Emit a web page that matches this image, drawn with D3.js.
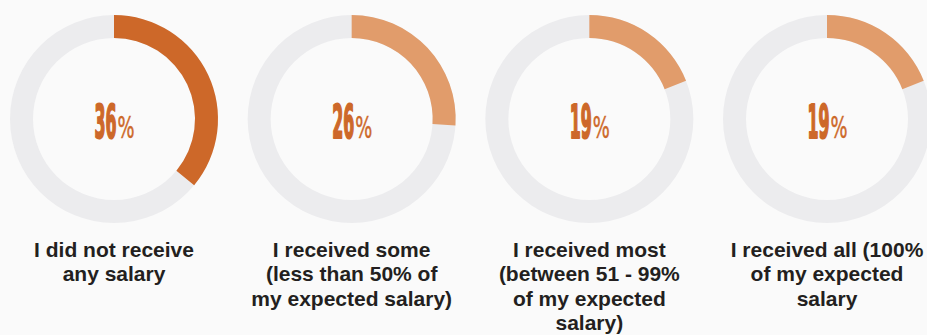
<!DOCTYPE html>
<html>
<head>
<meta charset="utf-8">
<script src="https://cdn.jsdelivr.net/npm/d3@7"></script>
<style>
  html, body { margin: 0; padding: 0; background: #fafafa; }
  svg { display: block; }
</style>
</head>
<body>
<svg id="chart" width="927" height="335"></svg>
<script>
// Share of respondents by how much of their expected salary they received
const categories = ["none", "some", "most", "all"];
const shares = [36, 26, 19, 19];
const labelLines = [
  ["I did not receive", "any salary"],
  ["I received some", "(less than 50% of", "my expected salary)"],
  ["I received most", "(between 51 - 99%", "of my expected", "salary)"],
  ["I received all (100%", "of my expected", "salary"]
];
const arcColors = ["#cd6829", "#e19c6b", "#e19c6b", "#e19c6b"];

const width = 927, height = 335;
const cy = 119;
const outerR = 104, innerR = 81;

const svg = d3.select("#chart");

const x = d3.scalePoint().domain(categories).range([114, 827]);
const angle = d3.scaleLinear().domain([0, 100]).range([0, 2 * Math.PI]);

const arc = d3.arc().innerRadius(innerR).outerRadius(outerR);

const data = categories.map((c, i) => ({
  key: c, value: shares[i], lines: labelLines[i], color: arcColors[i]
}));

const g = svg.selectAll("g.donut")
  .data(data)
  .join("g")
  .attr("class", "donut")
  .attr("transform", d => `translate(${x(d.key)},${cy})`);

// background track
g.append("path")
  .attr("d", arc({ startAngle: 0, endAngle: 2 * Math.PI }))
  .attr("fill", "#ececee");

// value arc, clockwise from 12 o'clock
g.append("path")
  .attr("d", d => arc({ startAngle: 0, endAngle: angle(d.value) }))
  .attr("fill", d => d.color);

// centre percentage: tall condensed digits plus a lighter percent sign
const pctFont = "'DejaVu Sans Condensed', 'DejaVu Sans', sans-serif";
const digitSize = 47, signSize = 30;
const digitW = 11, signW = 17, baseline = 19;

function measure(text, size, weight) {
  const t = svg.append("text")
    .style("font-family", pctFont)
    .style("font-weight", weight)
    .style("font-size", size + "px")
    .text(text);
  const w = t.node().getComputedTextLength();
  t.remove();
  return w;
}
const sxDigit = (2 * digitW) / measure("00", digitSize, "bold");
const sxSign = signW / measure("%", signSize, "normal");

g.each(function (d) {
  const node = d3.select(this);
  const digits = String(d.value);
  const dw = digits.length * digitW;
  const left = -(dw + signW) / 2;

  node.append("text")
    .attr("transform", `translate(${left},${baseline}) scale(${sxDigit},1)`)
    .attr("fill", "#cd6829")
    .attr("stroke", "#cd6829")
    .attr("stroke-width", 1.6)
    .attr("vector-effect", "non-scaling-stroke")
    .attr("stroke-linejoin", "round")
    .style("font-family", pctFont)
    .style("font-weight", "bold")
    .style("font-size", digitSize + "px")
    .text(digits);

  node.append("text")
    .attr("transform", `translate(${left + dw + 1},${baseline}) scale(${sxSign},1)`)
    .attr("fill", "#cd6829")
    .attr("stroke", "#cd6829")
    .attr("stroke-width", 0.4)
    .attr("vector-effect", "non-scaling-stroke")
    .style("font-family", pctFont)
    .style("font-weight", "normal")
    .style("font-size", signSize + "px")
    .text("%");
});

// category labels under each ring
const lab = g.append("text")
  .attr("text-anchor", "middle")
  .attr("fill", "#231f20")
  .style("font-family", "'Liberation Sans', Arimo, Arial, Helvetica, sans-serif")
  .style("font-weight", "bold")
  .style("font-size", "21px");

lab.selectAll("tspan")
  .data(d => d.lines)
  .join("tspan")
  .attr("x", 0)
  .attr("y", (d, i) => 257 - cy + i * 24.3)
  .text(d => d);
</script>
</body>
</html>
